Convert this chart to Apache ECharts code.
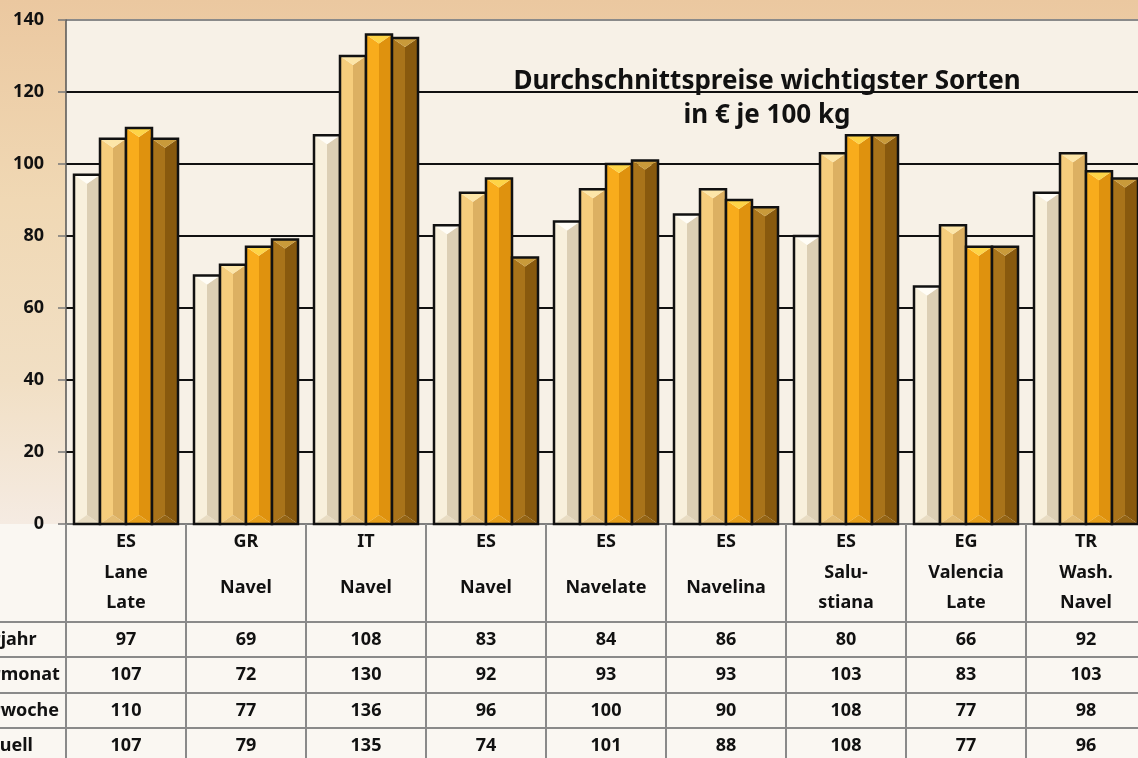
<!DOCTYPE html>
<html>
<head>
<meta charset="utf-8">
<script src="https://cdn.jsdelivr.net/npm/echarts@6/dist/echarts.min.js"></script>
<style>
html, body { margin: 0; padding: 0; }
body {
    width: 1138px; height: 758px; overflow: hidden;
    background:
        linear-gradient(180deg, rgba(0,0,0,0) 0px, rgba(0,0,0,0) 524px, #faf7f2 524px),
        linear-gradient(180deg, #ebc8a0 0px, #f0d8b4 200px, #f1dfc4 380px, #f5ebe2 524px);
}
#chart { width: 1138px; height: 758px; }
</style>
</head>
<body>
<div id="chart"></div>
<script>
// Sorten
var countries = ['ES', 'GR', 'IT', 'ES', 'ES', 'ES', 'ES', 'EG', 'TR'];
var varieties = ['Lane\nLate', 'Navel', 'Navel', 'Navel', 'Navelate', 'Navelina', 'Salu-\nstiana', 'Valencia\nLate', 'Wash.\nNavel'];

// Preise in € je 100 kg
var rowNames = ['Vorjahr', 'Vormonat', 'Vorwoche', 'aktuell'];
var vorjahr = [97, 69, 108, 83, 84, 86, 80, 66, 92];
var vormonat = [107, 72, 130, 92, 93, 93, 103, 83, 103];
var vorwoche = [110, 77, 136, 96, 100, 90, 108, 77, 98];
var aktuell = [107, 79, 135, 74, 101, 88, 108, 77, 96];

var yTicks = [0, 20, 40, 60, 80, 100, 120, 140];

var rows = [vorjahr, vormonat, vorwoche, aktuell];
var categories = countries.map(function (c, i) { return c + ' ' + varieties[i]; });

var FONT = '"Noto Sans", sans-serif';
var rowOffsets = [98, 133, 169, 204];
var rowHeights = [35, 36, 35, 40];
var BAR_W = 26;

// Farben: Spitze / linke Seite / rechte Seite / Boden
var palette = [
    ['#fffdf6', '#f8f0dc', '#dccfb4', '#e8dcc2'],
    ['#fde6a8', '#f6cd7c', '#dcb062', '#e4bc72'],
    ['#fed447', '#f8ac1c', '#df920e', '#e69e18'],
    ['#c99a3a', '#a8731a', '#88590e', '#946414']
];

function renderBar(r) {
    return function (params, api) {
        var idx = api.value(0);
        var top = api.coord([idx, api.value(1)]);
        var base = api.coord([idx, 0]);
        var xc = top[0] + (r - 1.5) * BAR_W;
        var x0 = xc - BAR_W / 2, x1 = xc + BAR_W / 2;
        var y0 = top[1], yb = base[1];
        var h = Math.min(9, (yb - y0) / 2);
        var p = palette[r];
        return {
            type: 'group',
            children: [
                { type: 'polygon', shape: { points: [[x0, y0], [xc, y0 + h], [xc, yb - h], [x0, yb]] }, style: { fill: p[1] } },
                { type: 'polygon', shape: { points: [[xc, y0 + h], [x1, y0], [x1, yb], [xc, yb - h]] }, style: { fill: p[2] } },
                { type: 'polygon', shape: { points: [[x0, y0], [x1, y0], [xc, y0 + h]] }, style: { fill: p[0] } },
                { type: 'polygon', shape: { points: [[x0, yb], [x1, yb], [xc, yb - h]] }, style: { fill: p[3] } },
                { type: 'rect', shape: { x: x0, y: y0, width: BAR_W, height: yb - y0 }, style: { fill: null, stroke: '#111', lineWidth: 2.5 } }
            ]
        };
    };
}

var myChart = echarts.init(document.getElementById('chart'), null, { renderer: 'canvas' });

var xAxes = [{
    type: 'category',
    data: categories,
    position: 'bottom',
    axisLine: { lineStyle: { color: '#7d7d7d', width: 2 } },
    axisTick: { show: true, interval: 0, length: 98, lineStyle: { color: '#8a8a8a', width: 2 } },
    axisLabel: {
        interval: 0,
        margin: 2,
        formatter: function (v, i) {
            var lines = varieties[i].split('\n');
            if (lines.length > 1) {
                return '{c|' + countries[i] + '}\n{n2|' + lines[0] + '}\n{n2|' + lines[1] + '}';
            }
            return '{c|' + countries[i] + '}\n{n1|' + lines[0] + '}';
        },
        rich: {
            c: { fontFamily: FONT, fontWeight: 'bold', fontSize: 18, color: '#111', lineHeight: 32 },
            n2: { fontFamily: FONT, fontWeight: 'bold', fontSize: 18, color: '#111', lineHeight: 30 },
            n1: { fontFamily: FONT, fontWeight: 'bold', fontSize: 18, color: '#111', lineHeight: 60, height: 60 }
        }
    }
}];

rows.forEach(function (vals, r) {
    xAxes.push({
        type: 'category',
        data: categories,
        position: 'bottom',
        offset: rowOffsets[r],
        name: rowNames[r],
        nameLocation: 'start',
        nameGap: 96,
        nameTextStyle: {
            fontFamily: FONT, fontWeight: 'bold', fontSize: 18, color: '#111',
            align: 'left', verticalAlign: 'top', lineHeight: 35
        },
        axisLine: { lineStyle: { color: '#8a8a8a', width: 2 } },
        axisTick: { show: true, interval: 0, length: rowHeights[r], lineStyle: { color: '#8a8a8a', width: 2 } },
        axisLabel: {
            interval: 0,
            margin: 0,
            lineHeight: 35,
            fontFamily: FONT, fontWeight: 'bold', fontSize: 18, color: '#111',
            formatter: function (v, i) { return String(vals[i]); }
        }
    });
});

var series = rows.map(function (vals, r) {
    return {
        name: rowNames[r],
        type: 'custom',
        xAxisIndex: 0,
        renderItem: renderBar(r),
        encode: { x: 0, y: 1 },
        data: vals.map(function (v, i) { return [i, v]; }),
        z: 3
    };
});

var option = {
    backgroundColor: 'transparent',
    animation: false,
    title: {
        text: 'Durchschnittspreise wichtigster Sorten\nin € je 100 kg',
        left: 762,
        top: 60,
        textAlign: 'center',
        textStyle: { fontFamily: FONT, fontWeight: 'bold', fontSize: 26, color: '#111', lineHeight: 34 }
    },
    grid: {
        left: 66, right: -8, top: 20, bottom: 234,
        outerBoundsMode: 'none',
        containLabel: false,
        show: true, backgroundColor: '#f7f1e7', borderWidth: 0
    },
    graphic: [
        // Tabellenlinien links neben der Tabelle
        { type: 'rect', z: -1, shape: { x: 0, y: 621, width: 66, height: 2 }, style: { fill: '#8a8a8a' }, silent: true },
        { type: 'rect', z: -1, shape: { x: 0, y: 656, width: 66, height: 2 }, style: { fill: '#8a8a8a' }, silent: true },
        { type: 'rect', z: -1, shape: { x: 0, y: 692, width: 66, height: 2 }, style: { fill: '#8a8a8a' }, silent: true },
        { type: 'rect', z: -1, shape: { x: 0, y: 727, width: 66, height: 2 }, style: { fill: '#8a8a8a' }, silent: true }
    ],
    xAxis: xAxes,
    yAxis: {
        type: 'value',
        min: yTicks[0],
        max: yTicks[yTicks.length - 1],
        interval: 20,
        axisLine: { show: true, lineStyle: { color: '#555', width: 1.5 } },
        axisTick: { show: true, length: 8, lineStyle: { color: '#777', width: 1.5 } },
        axisLabel: { margin: 22, fontFamily: FONT, fontWeight: 'bold', fontSize: 18, color: '#111' },
        splitLine: {
            show: true,
            lineStyle: { color: ['#111', '#111', '#111', '#111', '#111', '#111', '#111', '#8a8a8a'], width: 2 }
        }
    },
    series: series
};

option && myChart.setOption(option);
</script>
</body>
</html>
